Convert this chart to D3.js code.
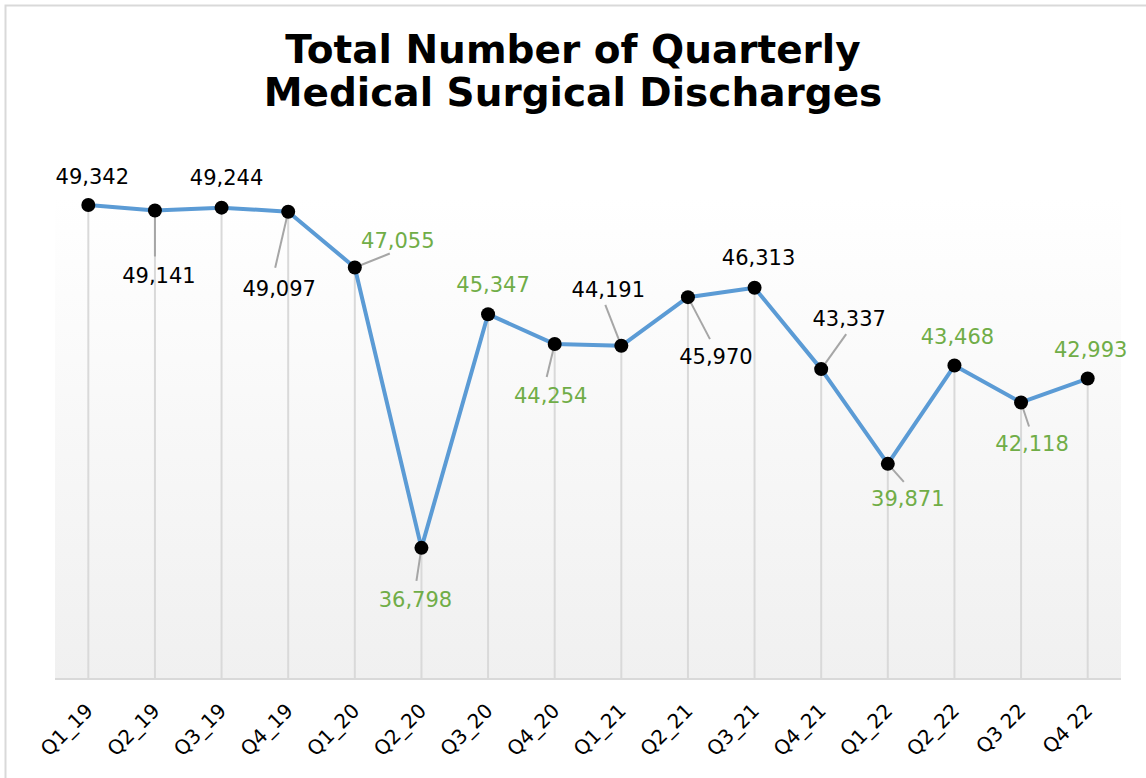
<!DOCTYPE html>
<html><head><meta charset="utf-8">
<script src="https://cdn.jsdelivr.net/npm/d3@7"></script>
<style>body{margin:0;background:#fff;}svg{display:block;}</style>
</head><body>
<svg id="c" width="1146" height="778"></svg>
<script>
const categories = ["Q1_19","Q2_19","Q3_19","Q4_19","Q1_20","Q2_20","Q3_20","Q4_20","Q1_21","Q2_21","Q3_21","Q4_21","Q1_22","Q2_22","Q3 22","Q4 22"];
const discharges = [49342,49141,49244,49097,47055,36798,45347,44254,44191,45970,46313,43337,39871,43468,42118,42993];
const highlighted = [false,false,false,false,true,true,true,true,false,false,false,false,true,true,true,true];
const yDomain = [32000, 50000];
const titleLines = ["Total Number of Quarterly","Medical Surgical Discharges"];

// label placement: offset of label centre from point, and leader end offset (or null)
const labelLayout = [
  {dx:4,dy:-29,lead:null},{dx:4,dy:65,lead:[0,46]},{dx:5,dy:-30,lead:null},{dx:-9,dy:77,lead:[-13,56]},
  {dx:43,dy:-27,lead:[35,-14]},{dx:-6,dy:52,lead:[-5,33]},{dx:5,dy:-30,lead:null},{dx:-4,dy:51,lead:[-8,33]},
  {dx:-13,dy:-56,lead:[-16,-41]},{dx:28,dy:59,lead:[22,42]},{dx:4,dy:-30,lead:null},{dx:28,dy:-51,lead:[25,-35]},
  {dx:20,dy:35,lead:[16,18]},{dx:3,dy:-29,lead:null},{dx:11,dy:41,lead:[8,24]},{dx:3,dy:-29,lead:null}
];

const svg = d3.select("#c");
const W = 1146, H = 778;
const plot = {left:55, right:1121, top:198, bottom:679};

svg.append("rect").attr("x",5.5).attr("y",5.5).attr("width",W+10).attr("height",H+10)
  .attr("fill","#fff").attr("stroke","#d9d9d9").attr("stroke-width",2);

const defs = svg.append("defs");
const grad = defs.append("linearGradient").attr("id","bg").attr("x1",0).attr("y1",0).attr("x2",0).attr("y2",1);
grad.append("stop").attr("offset","0%").attr("stop-color","#ffffff");
grad.append("stop").attr("offset","100%").attr("stop-color","#f0f0f0");

svg.append("rect").attr("x",plot.left).attr("y",plot.top)
  .attr("width",plot.right-plot.left).attr("height",plot.bottom-plot.top).attr("fill","url(#bg)");

const x = d3.scaleBand().domain(categories).range([plot.left, plot.right]).padding(0);
const cx = c => x(c) + x.bandwidth()/2;
const y = d3.scaleLinear().domain(yDomain).range([plot.bottom, 187]);

const data = categories.map((c,i)=>({c, v:discharges[i], hi:highlighted[i], L:labelLayout[i]}));

// drop lines
svg.append("g").selectAll("line").data(data).join("line")
  .attr("x1",d=>cx(d.c)).attr("x2",d=>cx(d.c))
  .attr("y1",d=>y(d.v)).attr("y2",plot.bottom)
  .attr("stroke","#d9d9d9").attr("stroke-width",2);

// axis
const xAxis = d3.axisBottom(x).tickSize(0).tickPadding(0);
const ax = svg.append("g").attr("transform",`translate(0,${plot.bottom})`).call(xAxis);
ax.select(".domain").attr("stroke","#d9d9d9").attr("stroke-width",2).attr("d",`M${plot.left},0H${plot.right}`);
ax.selectAll(".tick text")
  .attr("font-family","Verdana, 'DejaVu Sans', sans-serif").attr("font-size",20).attr("fill","#000")
  .attr("text-anchor","end").attr("dy",0)
  .attr("transform","translate(6,33) rotate(-45)");

// leader lines
svg.append("g").selectAll("line").data(data.filter(d=>d.L.lead)).join("line")
  .attr("x1",d=>cx(d.c)).attr("y1",d=>y(d.v))
  .attr("x2",d=>cx(d.c)+d.L.lead[0]).attr("y2",d=>y(d.v)+d.L.lead[1])
  .attr("stroke","#a6a6a6").attr("stroke-width",2);

// line
svg.append("path").datum(data)
  .attr("d", d3.line().x(d=>cx(d.c)).y(d=>y(d.v)))
  .attr("fill","none").attr("stroke","#5b9bd5").attr("stroke-width",4).attr("stroke-linejoin","round");

// markers
svg.append("g").selectAll("circle").data(data).join("circle")
  .attr("cx",d=>cx(d.c)).attr("cy",d=>y(d.v)).attr("r",7).attr("fill","#000");

// labels
const fmt = d3.format(",");
svg.append("g").selectAll("text").data(data).join("text")
  .attr("x",d=>cx(d.c)+d.L.dx).attr("y",d=>y(d.v)+d.L.dy)
  .attr("dy","0.36em").attr("text-anchor","middle")
  .attr("font-family","Verdana, 'DejaVu Sans', sans-serif").attr("font-size",21)
  .attr("fill",d=>d.hi?"#70ad47":"#000")
  .text(d=>fmt(d.v));

// title
svg.append("g").selectAll("text").data(titleLines).join("text")
  .attr("x",573).attr("y",(d,i)=>63+i*43).attr("text-anchor","middle")
  .attr("font-family","Tahoma, 'DejaVu Sans', sans-serif").attr("font-weight","bold").attr("font-size",39)
  .attr("fill","#000").text(d=>d);
</script>
</body></html>
